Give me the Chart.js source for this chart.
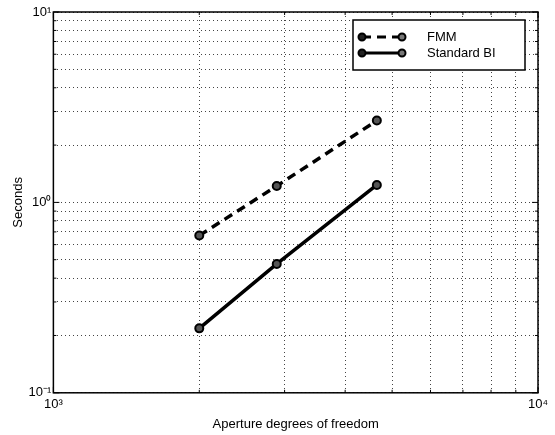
<!DOCTYPE html>
<html>
<head>
<meta charset="utf-8">
<script src="https://cdn.jsdelivr.net/npm/chart.js@4.4.1/dist/chart.umd.min.js"></script>
<style>
  body { margin: 0; background: #fff; }
  #wrap { width: 555px; height: 435px; }
</style>
</head>
<body>
<div id="wrap"><canvas id="myChart"></canvas></div>
<script>
// data
var dof = [2000, 2890, 4650];
var fmmSeconds = [0.67, 1.22, 2.69];
var biSeconds = [0.218, 0.475, 1.235];
var seriesNames = ["FMM", "Standard BI"];
var xRange = [1000, 10000];
var yRange = [0.1, 10];

var sup = { "-": "\u207B", "0": "\u2070", "1": "\u00B9", "2": "\u00B2", "3": "\u00B3", "4": "\u2074" };
function isDecade(v) {
  var l = Math.log10(v);
  return Math.abs(l - Math.round(l)) < 1e-6;
}
function powLabel(v) {
  if (!isDecade(v)) return "";
  var e = Math.round(Math.log10(v));
  return "10" + String(e).split("").map(function (c) { return sup[c]; }).join("");
}
// keep 1..9 x 10^n only, like matlab's log grid
function onlyMantissa(scale) {
  scale.ticks = scale.ticks.filter(function (t) {
    var m = t.value / Math.pow(10, Math.floor(Math.log10(t.value) + 1e-9));
    return Math.abs(m - Math.round(m)) < 1e-6;
  });
}

var font = "'Liberation Sans', Arial, sans-serif";

// box round the plot + small inward ticks
var frame = {
  id: "frame",
  afterDraw: function (chart) {
    var ctx = chart.ctx, a = chart.chartArea;
    ctx.save();
    ctx.strokeStyle = "#000";
    ctx.lineWidth = 1.5;
    ctx.strokeRect(a.left, a.top, a.right - a.left, a.bottom - a.top);
    ctx.lineWidth = 1;
    chart.scales.x.ticks.forEach(function (t) {
      var px = chart.scales.x.getPixelForValue(t.value);
      var len = isDecade(t.value) ? 6 : 3;
      ctx.beginPath();
      ctx.moveTo(px, a.bottom); ctx.lineTo(px, a.bottom - len);
      ctx.moveTo(px, a.top); ctx.lineTo(px, a.top + len);
      ctx.stroke();
    });
    chart.scales.y.ticks.forEach(function (t) {
      var py = chart.scales.y.getPixelForValue(t.value);
      var len = isDecade(t.value) ? 6 : 3;
      ctx.beginPath();
      ctx.moveTo(a.left, py); ctx.lineTo(a.left + len, py);
      ctx.moveTo(a.right, py); ctx.lineTo(a.right - len, py);
      ctx.stroke();
    });
    ctx.restore();
  }
};

// matlab-like legend: marker - line - marker
var legendBox = {
  id: "legendBox",
  afterDraw: function (chart) {
    var ctx = chart.ctx, a = chart.chartArea;
    var x0 = a.right - 185, y0 = a.top + 8, w = 172, h = 50;
    ctx.save();
    ctx.fillStyle = "#fff";
    ctx.fillRect(x0, y0, w, h);
    ctx.strokeStyle = "#000";
    ctx.lineWidth = 1.5;
    ctx.strokeRect(x0, y0, w, h);
    ctx.font = "13px " + font;
    ctx.textBaseline = "middle";
    chart.data.datasets.forEach(function (ds, i) {
      var y = y0 + 17 + i * 16;
      ctx.strokeStyle = "#000";
      ctx.lineWidth = 3;
      ctx.setLineDash(ds.borderDash || []);
      ctx.beginPath();
      ctx.moveTo(x0 + 9, y); ctx.lineTo(x0 + 49, y);
      ctx.stroke();
      ctx.setLineDash([]);
      [x0 + 9, x0 + 49].forEach(function (mx, k) {
        ctx.beginPath();
        ctx.arc(mx, y, 3.5, 0, Math.PI * 2);
        ctx.fillStyle = k === 0 ? "#222" : "#777";
        ctx.fill();
        ctx.lineWidth = 2;
        ctx.stroke();
      });
      ctx.fillStyle = "#000";
      ctx.fillText(ds.label, x0 + 74, y);
    });
    ctx.restore();
  }
};

function pts(ys) {
  return dof.map(function (x, i) { return { x: x, y: ys[i] }; });
}

var ctx = document.getElementById("myChart").getContext("2d");
new Chart(ctx, {
  type: "line",
  data: {
    datasets: [{
      label: seriesNames[0],
      data: pts(fmmSeconds),
      borderColor: "#000",
      borderWidth: 3.5,
      borderDash: [9, 6],
      pointRadius: 4,
      pointBackgroundColor: "#555",
      pointBorderColor: "#000",
      pointBorderWidth: 2,
      fill: false
    }, {
      label: seriesNames[1],
      data: pts(biSeconds),
      borderColor: "#000",
      borderWidth: 3.5,
      pointRadius: 4,
      pointBackgroundColor: "#555",
      pointBorderColor: "#000",
      pointBorderWidth: 2,
      fill: false
    }]
  },
  options: {
    responsive: true,
    maintainAspectRatio: false,
    animation: false,
    layout: { padding: { top: 12, right: 17, left: 11, bottom: 3 } },
    plugins: {
      legend: { display: false },
      tooltip: { enabled: false }
    },
    scales: {
      x: {
        type: "logarithmic",
        min: xRange[0],
        max: xRange[1],
        afterBuildTicks: onlyMantissa,
        grid: { color: "#444", lineWidth: 1, drawTicks: false },
        border: { display: false, dash: [1, 3] },
        ticks: {
          autoSkip: false,
          maxRotation: 0,
          padding: 4,
          color: "#000",
          font: { family: font, size: 13 },
          callback: function (v) { return powLabel(v); }
        },
        title: {
          display: true,
          text: "Aperture degrees of freedom",
          color: "#000",
          font: { family: font, size: 13 },
          padding: { top: 0, bottom: 0 }
        }
      },
      y: {
        type: "logarithmic",
        min: yRange[0],
        max: yRange[1],
        afterBuildTicks: onlyMantissa,
        grid: { color: "#444", lineWidth: 1, drawTicks: false },
        border: { display: false, dash: [1, 3] },
        ticks: {
          autoSkip: false,
          padding: 2,
          color: "#000",
          font: { family: font, size: 13 },
          callback: function (v) { return powLabel(v); }
        },
        title: {
          display: true,
          text: "Seconds",
          color: "#000",
          font: { family: font, size: 13 },
          padding: { top: 0, bottom: 0 }
        }
      }
    }
  },
  plugins: [frame, legendBox]
});
</script>
</body>
</html>
